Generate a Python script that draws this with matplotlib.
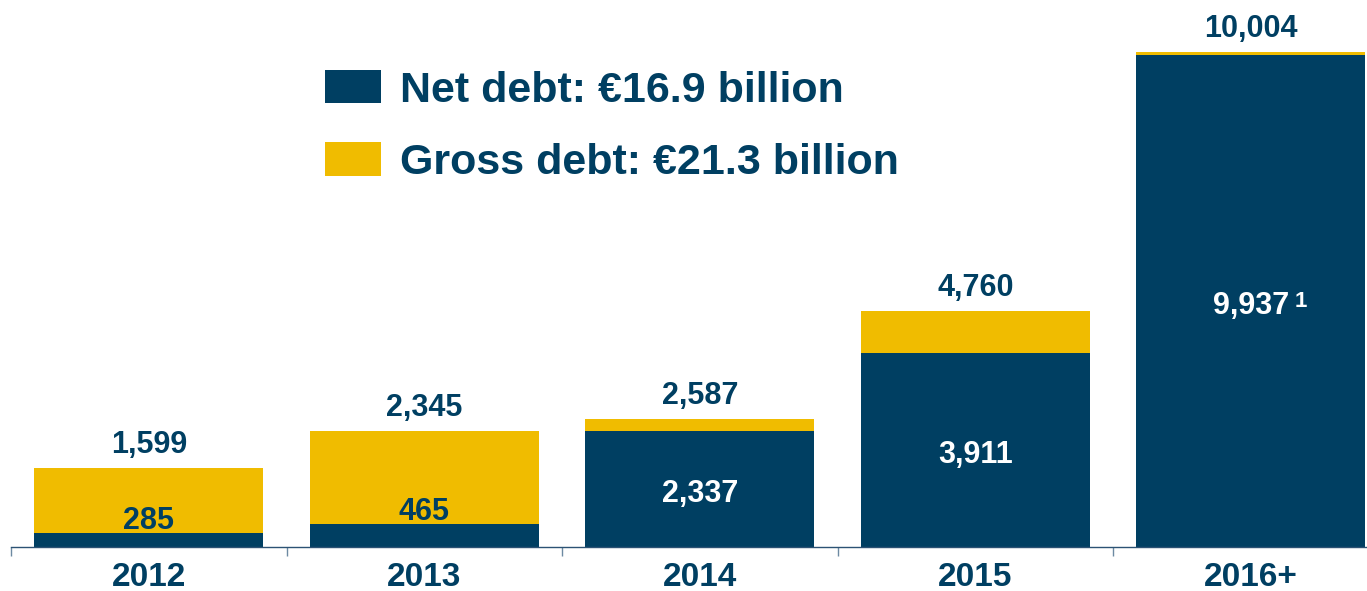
import numpy as np
import matplotlib.pyplot as plt

# maturity profile (EUR million)
years = ['2012', '2013', '2014', '2015', '2016+']
net_debt = np.array([285, 465, 2337, 3911, 9937])
gross_debt = np.array([1599, 2345, 2587, 4760, 10004])
legend_labels = ['Net debt: €16.9 billion', 'Gross debt: €21.3 billion']

navy = '#003f62'
gold = '#f0bc00'

plt.rcParams['font.family'] = ['Liberation Sans', 'DejaVu Sans']
plt.rcParams['font.weight'] = 'bold'

fig = plt.figure(figsize=(13.67, 5.91), dpi=100)
ax = fig.add_axes([11 / 1367, 44 / 591, 1355 / 1367, 547 / 591])

x = np.arange(len(years))
w = 0.831
ax.bar(x, net_debt, w, color=navy, label=legend_labels[0])
ax.bar(x, gross_debt - net_debt, w, bottom=net_debt, color=gold, label=legend_labels[1])

ax.set_xlim(-0.5, 4.418)
ax.set_ylim(0, 11055)

for xi, n, g in zip(x, net_debt, gross_debt):
    ax.annotate(f'{g:,}', (xi, g), xytext=(0, 11), textcoords='offset points',
                ha='center', va='baseline', fontsize=22, color=navy)
    if n > 1000:
        # white label in the middle of the net bar
        t = ax.annotate(f'{n:,}', (xi, n / 2), xytext=(0, -9.5), textcoords='offset points',
                        ha='center', va='baseline', fontsize=22, color='white')
    else:
        t = ax.annotate(f'{n:,}', (xi, n), xytext=(0, 3), textcoords='offset points',
                        ha='center', va='baseline', fontsize=22, color=navy)

# footnote marker on the last bar
ax.annotate('1', xy=(1, 1), xycoords=t, xytext=(4, 0), textcoords='offset points',
            ha='left', va='top', fontsize=16, color='white')

ax.set_xticks(x, years)
ax.set_xticks(np.arange(-0.5, 4, 1), minor=True)
ax.tick_params(axis='x', which='major', length=0, pad=11, labelsize=24, labelcolor=navy)
ax.tick_params(axis='x', which='minor', length=6.5, width=1, color='#6d8aa3')
ax.set_yticks([])
for s in ['top', 'right', 'left']:
    ax.spines[s].set_visible(False)
ax.spines['bottom'].set_color('#2c5274')
ax.spines['bottom'].set_linewidth(1)

ax.legend(loc='upper left', bbox_to_anchor=(325 / 1367, 1 - 70 / 591),
          bbox_transform=fig.transFigure, frameon=False,
          handlelength=1.30, handleheight=0.81, handletextpad=0.45,
          borderpad=0, borderaxespad=0, labelspacing=0.74,
          labelcolor=navy, prop={'weight': 'bold', 'size': 31})

fig.savefig('out.png', dpi=100)
